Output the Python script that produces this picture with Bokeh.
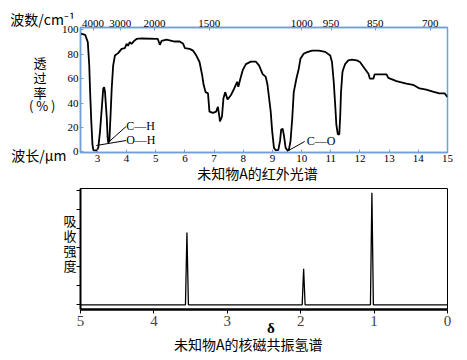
from bokeh.plotting import figure
from bokeh.models import FixedTicker, LinearAxis, Range1d, Label
from bokeh.layouts import column
from bokeh.embed import file_html
from bokeh.resources import INLINE

# ---------------- data: IR spectrum ----------------
ir_wavelength = [2.43, 2.58, 2.67, 2.72, 2.75, 2.79, 2.83, 2.86, 2.98, 3.03, 3.09, 3.15, 3.20, 3.23,
                 3.26, 3.32, 3.35, 3.37, 3.41, 3.45, 3.49, 3.54, 3.60, 3.71, 3.83, 3.94, 4.00, 4.05,
                 4.11, 4.17, 4.26, 4.34, 4.50, 5.07, 5.14, 5.20, 5.37, 5.65, 5.82, 5.94, 6.00, 6.16,
                 6.28, 6.39, 6.50, 6.59, 6.64, 6.71, 6.79, 6.84, 6.96, 7.07, 7.13, 7.18, 7.20, 7.27,
                 7.32, 7.38, 7.46, 7.58, 7.69, 7.79, 7.83, 7.90, 7.98, 8.09, 8.26, 8.43, 8.54, 8.66,
                 8.77, 8.83, 8.88, 8.94, 8.99, 9.05, 9.11, 9.20, 9.26, 9.30, 9.35, 9.39, 9.45, 9.51,
                 9.56, 9.62, 9.68, 9.73, 9.82, 9.90, 9.96, 10.07, 10.19, 10.36, 10.59, 10.81, 10.98,
                 11.04, 11.10, 11.15, 11.19, 11.24, 11.29, 11.32, 11.35, 11.40, 11.43, 11.49, 11.60,
                 11.72, 11.89, 12.00, 12.17, 12.29, 12.34, 12.46, 12.50, 12.91, 12.97, 13.25, 13.59,
                 13.82, 14.04, 14.27, 14.50, 14.72, 14.90, 15.00]
ir_transmittance = [97, 96, 90, 71, 49, 25, 6, 1.4, 1, 3.5, 17, 36, 52, 53,
                    49, 28, 12, 7.6, 9, 30, 52, 71, 79, 81, 84.5, 85, 88.6, 87,
                    90, 88.6, 91, 92.6, 93, 92.6, 87.8, 91, 92, 90.5, 90.5, 88.6, 85, 84.5,
                    83, 79, 73.7, 63, 55, 49, 48, 33, 32, 33, 37, 29, 25, 29,
                    44, 49, 43, 46.7, 52, 57.5, 53.4, 60, 67, 72, 74, 74, 71, 64,
                    61.5, 55, 45, 33, 17, 3.5, 1.4, 1.4, 9, 18.4, 19, 14, 3.5, 1.4,
                    1.4, 9, 28, 49, 60, 68, 76.4, 80.5, 81.8, 83, 83, 82, 79,
                    73.7, 57.5, 38.6, 22.4, 14.3, 14.3, 28, 49, 65.6, 68, 72, 75,
                    75.6, 75, 73.7, 68, 64, 60, 60, 63.5, 63.5, 60.7, 58, 56,
                    55, 52, 51, 49.4, 48, 48, 45]
ir_x_ticks = [3, 4, 5, 6, 7, 8, 9, 10, 11, 12, 13, 14, 15]
ir_y_ticks = [0, 20, 40, 60, 80, 100]
wavenumber_labels = ["4000", "3000", "2000", "1500", "1000", "950", "850", "700"]
wavenumber_at_wavelength = [2.85, 3.78, 4.96, 6.83, 10.0, 11.01, 12.52, 14.41]

# ---------------- data: 1H NMR spectrum ----------------
nmr_shift = [3.55, 1.96, 1.03]
nmr_intensity = [1.9, 0.95, 2.95]
nmr_x_ticks = [5, 4, 3, 2, 1, 0]
nmr_y_ticks = [0, 0.5, 1.0, 1.5, 2.0, 2.5, 3.0]

BLUE = "#6fa0d8"
SERIF = "Liberation Serif"
CJK = "Noto Sans CJK SC"
EM = "\u3000"
EN = "\u2002"
THIN = "\u2009"

IR_H = 187               # page rows 0..187 for the IR figure, the rest for NMR
NMR_H = 360 - IR_H


def text_axis(ticks, labels, font, size, standoff, bold=False):
    """An axis that carries only text (no line, no tick marks)."""
    ax = LinearAxis(ticker=FixedTicker(ticks=ticks),
                    major_label_overrides={t: s for t, s in zip(ticks, labels)})
    ax.axis_line_color = None
    ax.major_tick_line_color = None
    ax.minor_tick_line_color = None
    ax.major_tick_in = 0
    ax.major_tick_out = 0
    ax.major_label_text_font = font
    ax.major_label_text_font_size = size
    ax.major_label_text_color = "black"
    ax.major_label_standoff = standoff
    if bold:
        ax.major_label_text_font_style = "bold"
    return ax


# ================= IR figure =================
IR_X0, IR_X1 = 2.42, 15.0
IR_Y0, IR_Y1 = -0.5, 102.0
ir = figure(width=467, height=IR_H, x_range=Range1d(IR_X0, IR_X1),
            y_range=Range1d(IR_Y0, IR_Y1), output_backend="svg", toolbar_location=None,
            min_border_left=80, min_border_right=17, min_border_top=27,
            min_border_bottom=IR_H - 152)
ir.grid.visible = False
ir.outline_line_color = BLUE
ir.outline_line_width = 1.5


def ir_px(px):
    return IR_X0 + (px - 80) / 370 * (IR_X1 - IR_X0)


def ir_py(py):
    return IR_Y0 + (152 - py) / 125 * (IR_Y1 - IR_Y0)


def style_ir_axis(ax):
    ax.axis_line_color = BLUE
    ax.axis_line_width = 1.5
    ax.major_tick_line_color = BLUE
    ax.major_tick_in = 3
    ax.major_tick_out = 0
    ax.minor_tick_line_color = None
    ax.major_label_text_font = SERIF
    ax.major_label_text_font_size = "11px"
    ax.major_label_text_color = "black"
    ax.major_label_standoff = 2


ir.xaxis.ticker = FixedTicker(ticks=ir_x_ticks)
ir.yaxis.ticker = FixedTicker(ticks=ir_y_ticks)
style_ir_axis(ir.xaxis[0])
style_ir_axis(ir.yaxis[0])

top_axis = LinearAxis(ticker=FixedTicker(ticks=wavenumber_at_wavelength),
                      major_label_overrides={p: l for p, l in zip(wavenumber_at_wavelength, wavenumber_labels)})
style_ir_axis(top_axis)
top_axis.major_label_standoff = 1
ir.add_layout(top_axis, "above")

# text rows around the IR frame
edge = IR_X0 + 0.01
ir.add_layout(text_axis([edge], ["波数/cm⁻¹" + EM * 5 + EN], CJK, "14px", -12), "above")
ir.add_layout(text_axis([ir_py(62), ir_py(77), ir_py(92), ir_py(105)],
                        ["透" + EN + THIN, "过" + EN + THIN, "率" + EN + THIN, "( % )"],
                        CJK, "13px", 3), "left")
ir.add_layout(text_axis([edge], ["波长/μm" + EM * 6], CJK, "14px", -20), "below")
ir.add_layout(text_axis([ir_px(258.5)], ["未知物A的红外光谱"], CJK, "14px", -5), "below")

ir.line(ir_wavelength, ir_transmittance, line_color="black", line_width=1.8)

# leader lines for band assignments
ir.segment(x0=[ir_px(126), ir_px(126), ir_px(306)], y0=[ir_py(126), ir_py(140), ir_py(141)],
           x1=[ir_px(109), ir_px(96), ir_px(288)], y1=[ir_py(141), ir_py(145), ir_py(151)],
           line_color="black", line_width=1)
for txt, px, py in (("C—H", 126, 125), ("O—H", 126, 139), ("C—O", 308, 140)):
    ir.add_layout(Label(x=ir_px(px), y=ir_py(py), text=txt, text_font=SERIF,
                        text_font_size="12px", text_align="left", text_baseline="middle",
                        text_color="black"))

# ================= NMR figure =================
NMR_X0, NMR_X1 = 5.0, 0.0
NMR_Y0, NMR_Y1 = -0.124, 3.06
nmr = figure(width=467, height=NMR_H, x_range=Range1d(NMR_X0, NMR_X1),
             y_range=Range1d(NMR_Y0, NMR_Y1), output_backend="svg", toolbar_location=None,
             min_border_left=75, min_border_right=20, min_border_top=188 - IR_H,
             min_border_bottom=51)
nmr.grid.visible = False
nmr.outline_line_color = "black"
nmr.outline_line_width = 1


def nmr_px(px):
    return NMR_X0 + (px - 75) / 372 * (NMR_X1 - NMR_X0)


def nmr_py(py):
    return NMR_Y0 + (309 - py) / 121 * (NMR_Y1 - NMR_Y0)


nmr.xaxis.ticker = FixedTicker(ticks=nmr_x_ticks)
nmr.yaxis.ticker = FixedTicker(ticks=nmr_y_ticks)
for ax, lw in ((nmr.xaxis[0], 2.5), (nmr.yaxis[0], 2)):
    ax.axis_line_color = "black"
    ax.axis_line_width = lw
    ax.major_tick_line_color = "black"
    ax.major_tick_in = 0
    ax.major_tick_out = 4
    ax.minor_tick_line_color = None
    ax.major_label_text_font = SERIF
    ax.major_label_text_font_size = "15px"
    ax.major_label_standoff = 2
# the intensity axis carries tick marks only
nmr.yaxis.major_label_text_color = None

nmr.add_layout(text_axis([nmr_py(220), nmr_py(235), nmr_py(250), nmr_py(265)],
                         ["吸", "收", "强", "度"], CJK, "13px", 0), "left")
nmr.add_layout(text_axis([nmr_px(268)], ["δ"], SERIF, "15px", -9, bold=True), "below")
nmr.add_layout(text_axis([nmr_px(245)], ["未知物A的核磁共振氢谱"], CJK, "14px", -5), "below")

# spectrum: flat baseline with narrow peaks
half_width = 0.02
spec_x = [NMR_X0]
spec_y = [0.0]
for c, h in sorted(zip(nmr_shift, nmr_intensity), reverse=True):
    spec_x += [c + half_width, c, c - half_width]
    spec_y += [0.0, h, 0.0]
spec_x.append(NMR_X1)
spec_y.append(0.0)
nmr.line(spec_x, spec_y, line_color="black", line_width=1.3)

layout = column(ir, nmr, spacing=0)
open("out.html", "w").write(file_html(layout, INLINE))
